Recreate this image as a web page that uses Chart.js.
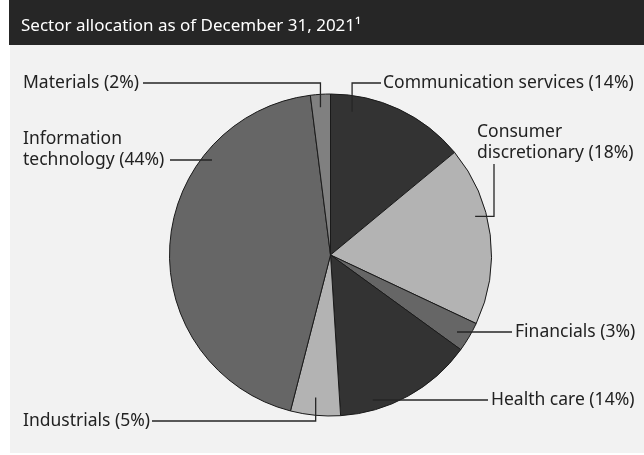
<!DOCTYPE html>
<html>
<head>
<meta charset="utf-8">
<script src="https://cdn.jsdelivr.net/npm/chart.js@4"></script>
<style>
  html, body { margin: 0; padding: 0; background: #ffffff; }
  canvas { display: block; }
</style>
</head>
<body>
<canvas id="sectorPie" width="644" height="455"></canvas>
<script>
// data
var sectors = ['Communication services', 'Consumer discretionary', 'Financials', 'Health care', 'Industrials', 'Information technology', 'Materials'];
var weights = [14, 18, 3, 14, 5, 44, 2];
var sliceColors = ['#333333', '#b3b3b3', '#666666', '#333333', '#b3b3b3', '#666666', '#808080'];

// callout layout: where the leader starts inside the slice (fraction of the slice angle, fraction of radius),
// how it is routed, where it ends, and where the text sits
var callouts = [
  { at: [0.17, 0.90], route: 'vh', end: [381, 83],  lines: ['Communication services (14%)'], tx: 383, ty: 83 },
  { at: [0.38, 0.93], route: 'hv', end: [494, 164], lines: ['Consumer', 'discretionary (18%)'], tx: 477, ty: 132 },
  { at: [0.57, 0.92], route: 'h',  end: [512, 332], lines: ['Financials (3%)'], tx: 515, ty: 332 },
  { at: [0.75, 0.94], route: 'h',  end: [488, 400], lines: ['Health care (14%)'], tx: 491, ty: 400 },
  { at: [0.53, 0.89], route: 'vh', end: [152, 421], lines: ['Industrials (5%)'], tx: 23, ty: 421 },
  { at: [0.72, 0.94], route: 'h',  end: [170, 160], lines: ['Information', 'technology (44%)'], tx: 23, ty: 139 },
  { at: [0.46, 0.92], route: 'vh', end: [143, 83],  lines: ['Materials (2%)'], tx: 23, ty: 83 }
];

// panel backgrounds
var panelPlugin = {
  id: 'panel',
  beforeDraw: function (chart) {
    var ctx = chart.ctx;
    ctx.save();
    ctx.fillStyle = '#ffffff';
    ctx.fillRect(0, 0, chart.width, chart.height);
    ctx.fillStyle = '#f2f2f2';
    ctx.fillRect(10, 44, chart.width - 10, 409);
    ctx.fillStyle = '#262626';
    ctx.fillRect(9, 0, chart.width - 9, 45);
    ctx.restore();
  }
};

// labels with elbow leader lines
var calloutPlugin = {
  id: 'callouts',
  afterDatasetsDraw: function (chart) {
    var ctx = chart.ctx;
    var arcs = chart.getDatasetMeta(0).data;
    ctx.save();
    ctx.strokeStyle = '#262626';
    ctx.lineWidth = 1.3;
    ctx.fillStyle = '#222222';
    ctx.font = '17.5px "Noto Sans"';
    ctx.textBaseline = 'middle';
    ctx.textAlign = 'left';
    callouts.forEach(function (c, i) {
      var arc = arcs[i];
      var a = arc.startAngle + c.at[0] * (arc.endAngle - arc.startAngle);
      var ax = arc.x + c.at[1] * arc.outerRadius * Math.cos(a);
      var ay = arc.y + c.at[1] * arc.outerRadius * Math.sin(a);
      ctx.beginPath();
      if (c.route === 'vh') {
        ctx.moveTo(ax, ay);
        ctx.lineTo(ax, c.end[1]);
        ctx.lineTo(c.end[0], c.end[1]);
      } else if (c.route === 'hv') {
        ctx.moveTo(ax, ay);
        ctx.lineTo(c.end[0], ay);
        ctx.lineTo(c.end[0], c.end[1]);
      } else {
        ctx.moveTo(ax, c.end[1]);
        ctx.lineTo(c.end[0], c.end[1]);
      }
      ctx.stroke();
      c.lines.forEach(function (t, k) {
        ctx.fillText(t, c.tx, c.ty + k * 21);
      });
    });
    ctx.restore();
  }
};

var chartArea = document.getElementById('sectorPie').getContext('2d');
var myChart = new Chart(chartArea, {
  type: 'pie',
  data: {
    labels: sectors,
    datasets: [{
      data: weights,
      backgroundColor: sliceColors,
      borderColor: '#1a1a1a',
      borderWidth: 1,
      radius: 161
    }]
  },
  options: {
    responsive: false,
    animation: false,
    devicePixelRatio: 1,
    layout: { padding: { left: 21, right: 4, top: 0, bottom: 0 } },
    plugins: {
      legend: { display: false },
      tooltip: { enabled: false },
      title: {
        display: true,
        text: 'Sector allocation as of December 31, 2021\u00b9',
        align: 'start',
        color: '#ffffff',
        font: { family: '"Noto Sans"', size: 17, weight: 'normal' },
        padding: { top: 16, bottom: 18.6 }
      }
    }
  },
  plugins: [panelPlugin, calloutPlugin]
});
</script>
</body>
</html>
